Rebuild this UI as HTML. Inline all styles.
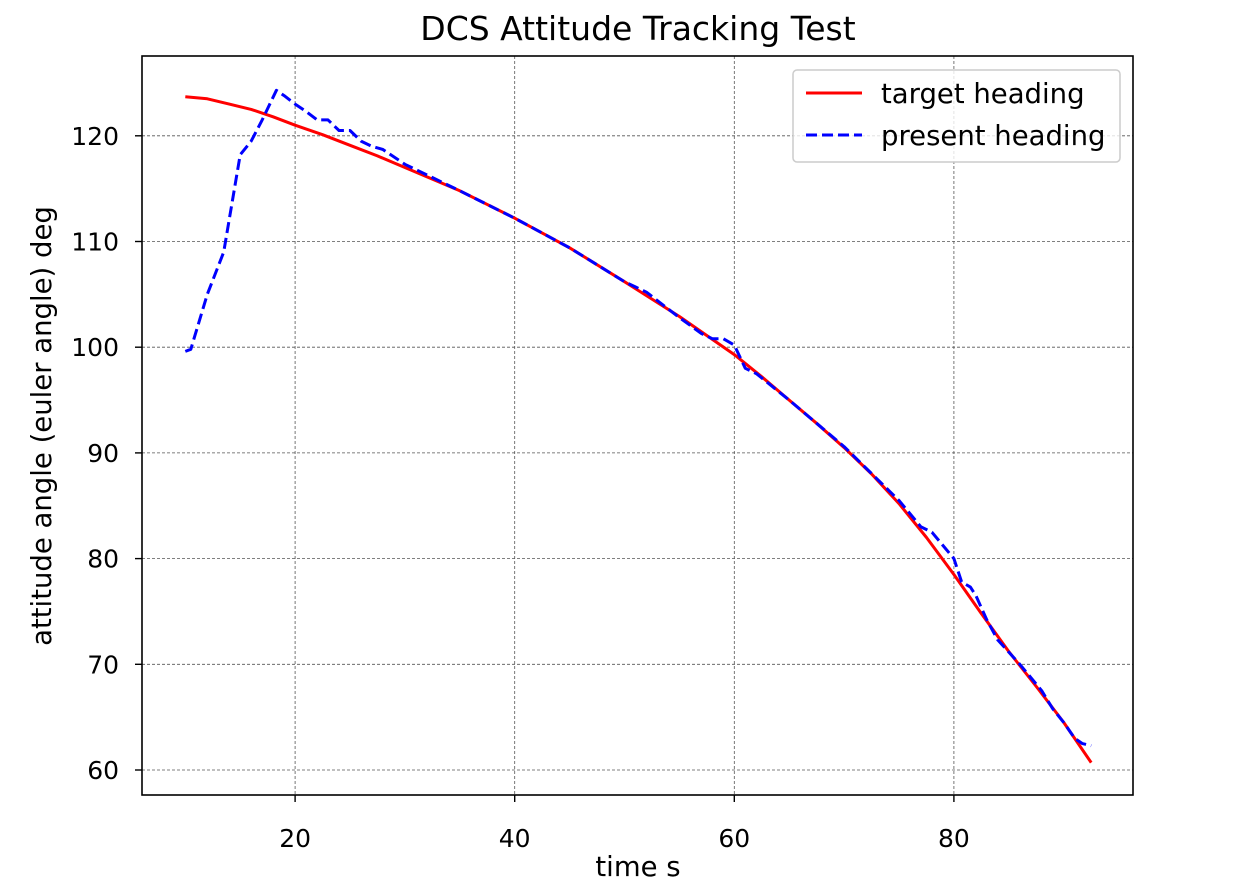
<!DOCTYPE html>
<html><head><meta charset="utf-8"><style>
body{margin:0;background:#fff;font-family:"DejaVu Sans","Liberation Sans",sans-serif}
</style></head><body>
<svg id="chart" width="1239" height="888" xmlns="http://www.w3.org/2000/svg" font-family="'DejaVu Sans','Liberation Sans',sans-serif">
<rect width="1239" height="888" fill="#fff"/>
<g id="grid"></g>
<g id="series"></g>
<rect x="142" y="56" width="991" height="739" fill="none" stroke="#000" stroke-width="1.6"/>
<g id="ticks" font-size="25" fill="#000"></g>
<text x="638" y="40" text-anchor="middle" font-size="33">DCS Attitude Tracking Test</text>
<text x="638" y="876" text-anchor="middle" font-size="27.5">time s</text>
<text transform="translate(51,426) rotate(-90)" text-anchor="middle" font-size="27.5">attitude angle (euler angle) deg</text>
<g>
<rect x="793" y="70" width="327" height="92" rx="4" fill="#fff" fill-opacity="0.8" stroke="#ccc" stroke-width="1.5"/>
<line x1="806" y1="93" x2="862" y2="93" stroke="red" stroke-width="3"/>
<text x="881" y="103" font-size="27.5">target heading</text>
<line x1="806" y1="135" x2="862" y2="135" stroke="blue" stroke-width="3" stroke-dasharray="11,5"/>
<text x="881" y="145" font-size="27.5">present heading</text>
</g>
</svg>
<script>
const xTicks=[20,40,60,80];
const yTicks=[60,70,80,90,100,110,120];
const targetT=[10,12,14,16,18,20,22.5,25,27.5,30,35,40,45,50,55,60,62.5,65,67.5,70,72.5,75,77.5,80,82.5,85,87.5,90,92.5];
const targetV=[123.7,123.5,123.0,122.5,121.8,121.0,120.1,119.1,118.1,117,114.8,112.2,109.4,106.2,102.9,99.3,97.2,95,92.8,90.5,88,85.2,82,78.5,74.8,71.2,67.9,64.5,60.7];
const presentT=[10,10.5,12,13.5,15,16,17,18.3,19,20,21,22,23,24,25,26,27,28,30,35,40,45,50,52,55,57,58,59,60,61,62,65,70,75,77,78,80,80.7,81.5,82,83,84,86,88,89,90,91,91.7,92.5];
const presentV=[99.6,99.8,105,109,118.2,119.5,121.5,124.3,123.8,123,122.3,121.5,121.5,120.5,120.5,119.5,119,118.7,117.3,114.8,112.2,109.4,106.2,105.2,102.8,101.3,100.8,100.8,100.2,98,97.5,95,90.6,85.5,83,82.5,80,77.8,77.3,76.5,74.2,72.3,70,67.5,65.8,64.5,63,62.5,62.3];
const X=v=>75.5+(v)*10.98;
const Y=v=>770-(v-60)*10.57;
const NS='http://www.w3.org/2000/svg';
const grid=document.getElementById('grid'),ticks=document.getElementById('ticks'),ser=document.getElementById('series');
function mk(tag,attrs,parent){const e=document.createElementNS(NS,tag);for(const k in attrs)e.setAttribute(k,attrs[k]);parent.appendChild(e);return e;}
xTicks.forEach(t=>{
 const g=mk('line',{x1:X(t),x2:X(t),y1:56,y2:795,stroke:'#555','stroke-width':0.8,'stroke-dasharray':'3,2'},grid);
 
 
 const tk=mk('line',{x1:X(t),x2:X(t),y1:795,y2:802,stroke:'#000','stroke-width':1.4},ticks);
 
 
 const l=mk('text',{x:X(t),y:847,'text-anchor':'middle'},ticks);l.textContent=t;
 
 
});
yTicks.forEach(t=>{
 const g=mk('line',{x1:142,x2:1133,y1:Y(t),y2:Y(t),stroke:'#555','stroke-width':0.8,'stroke-dasharray':'3,2'},grid);
 
 
 const tk=mk('line',{x1:135,x2:142,y1:Y(t),y2:Y(t),stroke:'#000','stroke-width':1.4},ticks);
 
 
 const l=mk('text',{x:119,y:Y(t)+9,'text-anchor':'end'},ticks);l.textContent=t;
 
 
});
function pts(ts,vs){return ts.map((t,i)=>X(t).toFixed(1)+','+Y(vs[i]).toFixed(1)).join(' ');}
const r=mk('polyline',{points:pts(targetT,targetV),fill:'none',stroke:'red','stroke-width':3,'stroke-linejoin':'round'},ser);


const b=mk('polyline',{points:pts(presentT,presentV),fill:'none',stroke:'blue','stroke-width':3,'stroke-dasharray':'11,5','stroke-linejoin':'round'},ser);


</script>
</body></html>
